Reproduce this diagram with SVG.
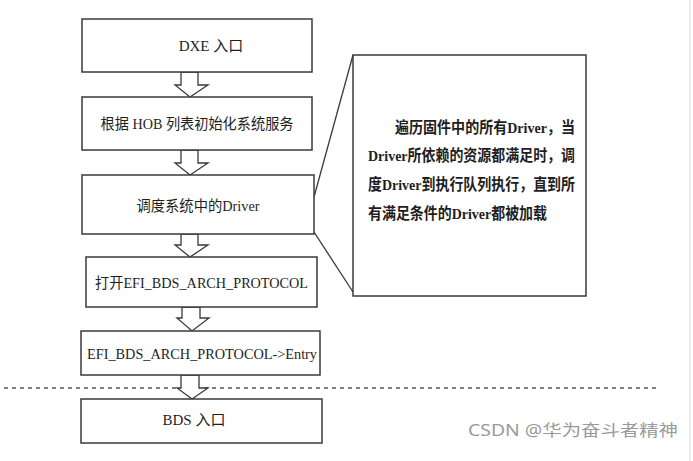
<svg xmlns="http://www.w3.org/2000/svg" width="693" height="461" viewBox="0 0 693 461">
<style>
.box{fill:#fff;stroke:#3a3a3a;stroke-width:1.5}
.arr{fill:#fff;stroke:#3a3a3a;stroke-width:1.3;stroke-linejoin:miter}
.t{font-family:"Liberation Serif","Noto Sans CJK SC",serif;font-size:15px;fill:#1e1e1e}
.c{text-anchor:middle}
.cl{font-family:"Liberation Serif","Noto Sans CJK SC",serif;font-size:15.5px;fill:#1e1e1e;font-weight:bold}
.line{stroke:#3a3a3a;stroke-width:1.3;fill:none}
</style>
<rect width="693" height="461" fill="#fff"/>
<line x1="690" y1="0" x2="690" y2="461" stroke="#e6e6e6" stroke-width="1.5"/>
<g id="dashed-divider">
<line x1="4" y1="388" x2="656" y2="388" stroke="#555" stroke-width="1.3" stroke-dasharray="4 4"/>
</g>
<g id="connectors">
<polygon class="arr" points="181,72 198,72 198,85 208,85 190,97 175,85 181,85"/>
<polygon class="arr" points="181,150 198,150 198,163 208,163 190,175 175,163 181,163"/>
<polygon class="arr" points="181,234 198,234 198,245 208,245 190,257 175,245 181,245"/>
<polygon class="arr" points="182,307 200,307 200,318 209,318 192,331 177,318 182,318"/>
<polygon class="arr" points="181,375 199,375 199,388 208,388 192,399 177,388 181,388"/>
<polyline class="line" points="353,55 314,197"/>
<polyline class="line" points="314,232 353,292"/>
</g>
<g id="n1">
<rect class="box" x="82" y="19" width="230" height="53"/>
<text class="t c" x="211" y="50.5">DXE 入口</text>
</g>
<g id="n2">
<rect class="box" x="82" y="97" width="230" height="53"/>
<text class="t c" x="197" y="128.5" textLength="193" lengthAdjust="spacingAndGlyphs">根据 HOB 列表初始化系统服务</text>
</g>
<g id="n3">
<rect class="box" x="82" y="175" width="232" height="59"/>
<text class="t c" x="198" y="210.5" textLength="123" lengthAdjust="spacingAndGlyphs">调度系统中的Driver</text>
</g>
<g id="n4">
<rect class="box" x="86" y="257" width="231" height="50"/>
<text class="t" x="95" y="287.5" textLength="213" lengthAdjust="spacingAndGlyphs">打开EFI_BDS_ARCH_PROTOCOL</text>
</g>
<g id="n5">
<rect class="box" x="81" y="331" width="239" height="44"/>
<text class="t" x="87" y="358.5" textLength="230" lengthAdjust="spacingAndGlyphs">EFI_BDS_ARCH_PROTOCOL-&gt;Entry</text>
</g>
<g id="n6">
<rect class="box" x="81" y="399" width="241" height="44"/>
<text class="t c" x="194" y="424.5">BDS 入口</text>
</g>
<g id="callout">
<rect class="box" x="353" y="55" width="233" height="241"/>
<text class="cl" x="395" y="132.5" textLength="180" lengthAdjust="spacingAndGlyphs">遍历固件中的所有Driver，当</text>
<text class="cl" x="368" y="161" textLength="207" lengthAdjust="spacingAndGlyphs">Driver所依赖的资源都满足时，调</text>
<text class="cl" x="368" y="190" textLength="207" lengthAdjust="spacingAndGlyphs">度Driver到执行队列执行，直到所</text>
<text class="cl" x="368" y="218.5" textLength="179" lengthAdjust="spacingAndGlyphs">有满足条件的Driver都被加载</text>
</g>
<g id="watermark">
<text x="468" y="435.5" font-family="'Noto Sans','Noto Sans CJK SC',sans-serif" font-size="15.5px" fill="#9a9a9a" textLength="210" lengthAdjust="spacingAndGlyphs">CSDN @华为奋斗者精神</text>
</g>
</svg>
